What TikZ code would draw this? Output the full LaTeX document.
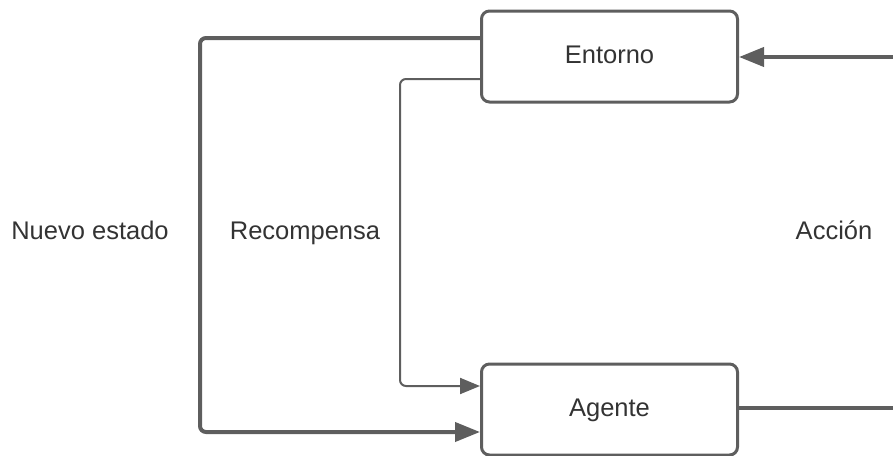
\documentclass[tikz,border=0pt]{standalone}
\usepackage{fontspec}
\setmainfont{Liberation Sans}
\usetikzlibrary{arrows.meta}
\definecolor{ln}{HTML}{5E5E5E}
\definecolor{tx}{HTML}{333333}
\begin{document}
\begin{tikzpicture}[x=1pt,y=-1pt,
  box/.style={draw=ln,line width=3pt,rounded corners=8pt,fill=white,minimum width=256pt,minimum height=91pt,inner sep=0pt,text=tx,font=\fontsize{25.5}{30}\selectfont,text height=19pt,text depth=5pt},
  lbl/.style={text=tx,font=\fontsize{25.5}{30}\selectfont,inner sep=0pt,text height=19pt,text depth=5pt},
  thick line/.style={draw=ln,line width=4pt,rounded corners=6pt},
  thin line/.style={draw=ln,line width=2pt,rounded corners=6pt},
  bigtip/.style={-{Triangle[length=25pt,width=19pt]}},
  smalltip/.style={-{Triangle[length=20pt,width=16pt]}}]
\useasboundingbox (0,0) rectangle (893,455);
\clip (0,0) rectangle (893,455);
\node[box] (env) at (609.5,56.5) {Entorno};
\node[box] (agent) at (609.5,409.5) {Agente};
\coordinate (ain) at (896,57);
\coordinate (aout) at (896,408);
\node[lbl] (nuevo) at (90,232) {Nuevo estado};
\node[lbl] (recomp) at (305,232) {Recompensa};
\node[lbl] (accion) at (834,232) {Acción};
\draw[thick line,bigtip] (env.west |- 0,38) -- (200,38) -- (200,432) -- (agent.west |- 0,432);
\draw[thin line,smalltip] (env.west |- 0,79) -- (400,79) -- (400,386) -- (agent.west |- 0,386);
\draw[thick line,bigtip] (ain) -- (env.east |- ain);
\draw[thick line] (agent.east |- aout) -- (aout);
\end{tikzpicture}
\end{document}
